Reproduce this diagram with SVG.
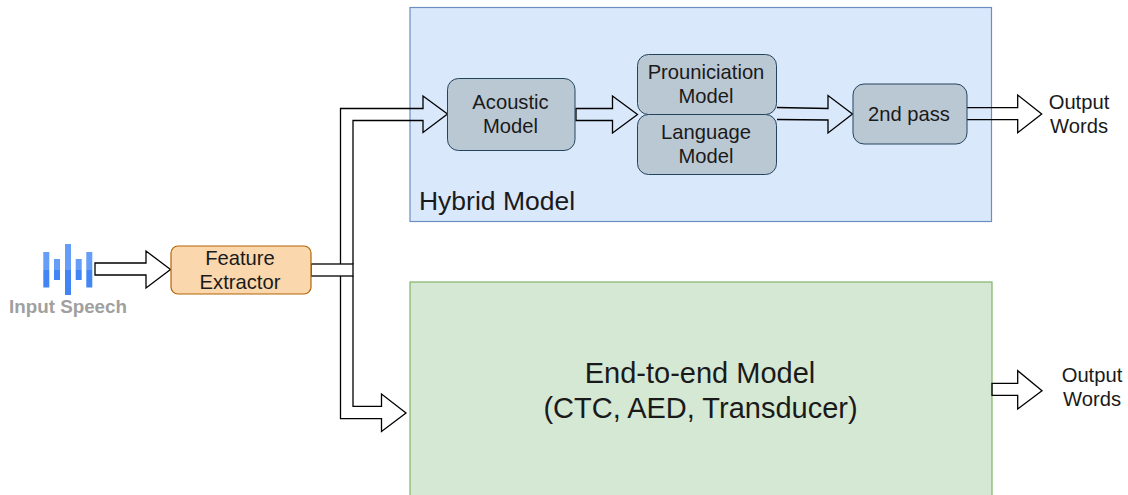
<svg xmlns="http://www.w3.org/2000/svg" width="1128" height="495" viewBox="0 0 1128 495">
<style>
text{font-family:"Liberation Sans",Arial,sans-serif;fill:#1a1a1a;text-anchor:middle}
.t{font-size:20.200px}
.box{fill:#bac8d3;stroke:#23445d;stroke-width:1}
.ar{fill:none;stroke:#000;stroke-width:1.300;stroke-linejoin:miter}
.hi{fill:#669df6}.lo{fill:#4285f4}
</style>
<rect width="1128" height="495" fill="#fff"/>
<g id="hybrid"><rect x="410" y="7.500" width="581.500" height="214" fill="#dae8fc" stroke="#6c8ebf" stroke-width="1.200"/><text x="497" y="210" style="font-size:26.500px">Hybrid Model</text></g>
<g id="e2e"><rect x="410" y="282" width="582" height="230" fill="#d5e8d4" stroke="#82b366" stroke-width="1.200"/><text x="700" y="383" style="font-size:29px">End-to-end Model</text><text x="700.500" y="417.500" style="font-size:29px">(CTC, AED, Transducer)</text></g>
<g id="connectors">
<path class="ar" d="M95 263H146V251L170.500 269.500L146 288V275H95Z"/>
<path class="ar" d="M340.500 264V108.500H423V96L447.500 114L423 132.500V120.500H353V264"/>
<path class="ar" d="M340.500 276V418.700H381.500V431.500L406 413L381.500 394V406.300H353V276"/>
<rect class="ar" style="fill:#fff" x="311" y="264" width="42" height="12"/>
<path class="ar" d="M576 108.500H612.500V96L637.500 114.500L612.500 133V120.500H576Z"/>
<path class="ar" d="M777 107.500L828 108.500V95.500L852.500 114L828 133V120L777 119.500"/>
<path class="ar" d="M967 107.700H1017.700V95L1041.700 114L1017.700 132.700V119.700H967"/>
<path class="ar" d="M992 383.300H1017.700V370.700L1042 390.700L1017.700 409V395.300H992Z"/>
</g>
<g id="input-speech">
<rect class="hi" x="43.300" y="252" width="6" height="18"/><rect class="lo" x="43.300" y="270" width="6" height="17.500"/>
<rect class="hi" x="54" y="259" width="6" height="11"/><rect class="lo" x="54" y="270" width="6" height="10"/>
<rect class="hi" x="65" y="244" width="6" height="26"/><rect class="lo" x="65" y="270" width="6" height="25"/>
<rect class="hi" x="75.700" y="259" width="6" height="11"/><rect class="lo" x="75.700" y="270" width="6" height="10"/>
<rect class="hi" x="86.300" y="252" width="6" height="18"/><rect class="lo" x="86.300" y="270" width="6" height="17.500"/>
<text x="68" y="313" style="font-size:18.800px;font-weight:bold;fill:#a0a0a0">Input Speech</text>
</g>
<g id="feature"><rect x="171" y="246" width="140" height="48" rx="7" fill="#fad7ac" stroke="#b46504" stroke-width="1.200"/><text class="t" x="240" y="265">Feature</text><text class="t" x="240" y="289">Extractor</text></g>
<g id="acoustic"><rect class="box" x="447.500" y="78.500" width="127.500" height="72" rx="11"/><text class="t" x="510.500" y="109">Acoustic</text><text class="t" x="510.500" y="133">Model</text></g>
<g id="pron"><rect class="box" x="637.500" y="54.500" width="139" height="60" rx="11"/><text class="t" x="706" y="79">Prouniciation</text><text class="t" x="706" y="103">Model</text></g>
<g id="lang"><rect class="box" x="637.500" y="114.500" width="139" height="60" rx="11"/><text class="t" x="706" y="139">Language</text><text class="t" x="706" y="163">Model</text></g>
<g id="pass2"><rect class="box" x="853" y="84" width="114" height="60" rx="11"/><text class="t" x="909" y="121">2nd pass</text></g>
<g id="out1"><text class="t" x="1079" y="109">Output</text><text class="t" x="1079" y="133">Words</text></g>
<g id="out2"><text class="t" x="1092" y="382">Output</text><text class="t" x="1092" y="406">Words</text></g>
</svg>
